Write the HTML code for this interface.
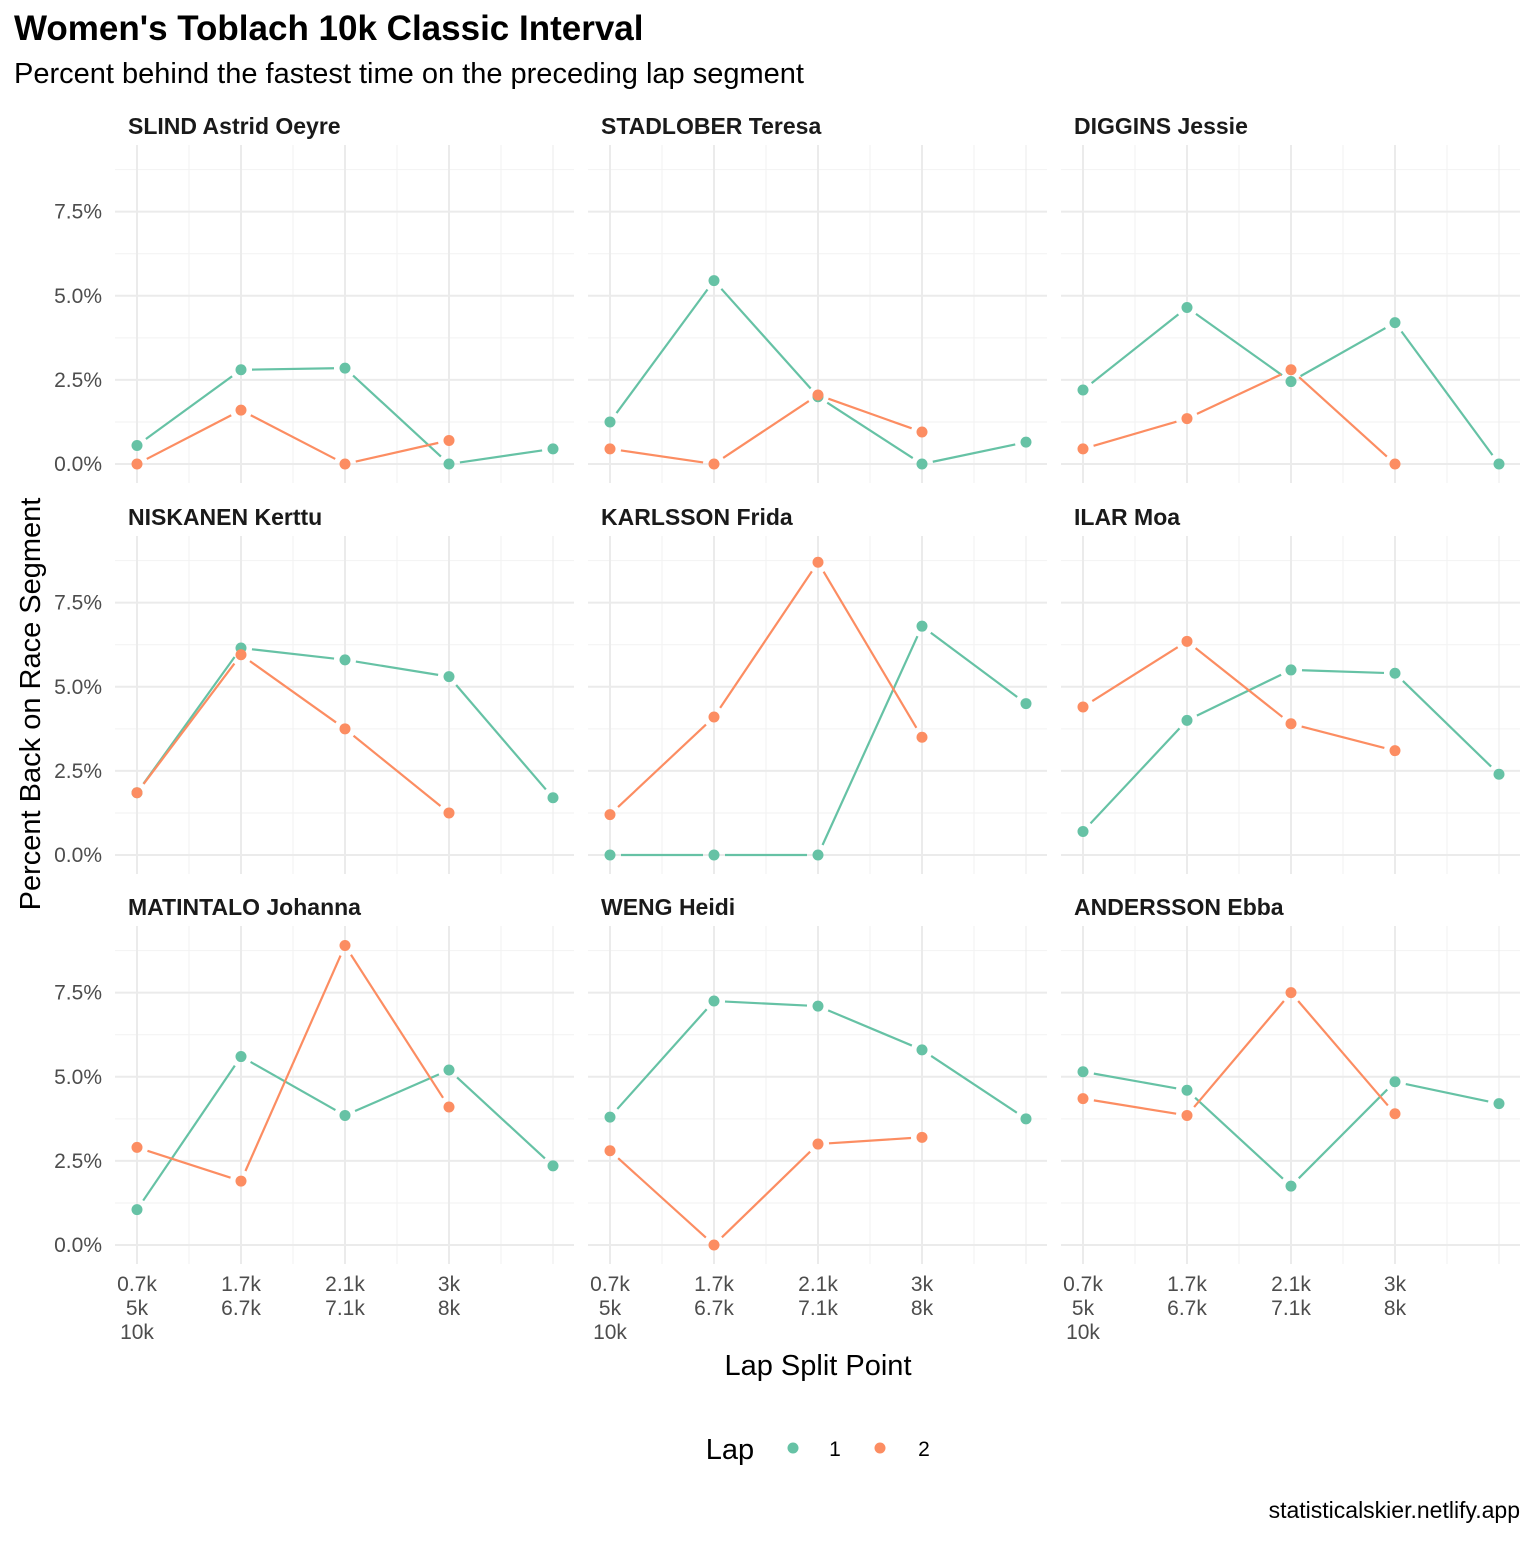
<!DOCTYPE html>
<html><head><meta charset="utf-8"><style>
body{margin:0;background:#fff}
svg text{font-family:"Liberation Sans",Arial,sans-serif}
</style></head><body>
<svg id="s" width="1536" height="1536" xmlns="http://www.w3.org/2000/svg">
<rect width="1536" height="1536" fill="#fff"/>
<text x="14" y="40" font-size="35" font-weight="bold" fill="#000">Women's Toblach 10k Classic Interval</text>
<text x="14" y="83" font-size="29" fill="#000">Percent behind the fastest time on the preceding lap segment</text>
<text x="818" y="1375" font-size="29" text-anchor="middle" fill="#000">Lap Split Point</text>
<text transform="translate(40,704) rotate(-90)" font-size="29" text-anchor="middle" fill="#000">Percent Back on Race Segment</text>
<text x="730" y="1459" font-size="29" text-anchor="middle" fill="#000">Lap</text>
<circle cx="793" cy="1448" r="5.5" fill="#66c2a5"/>
<text x="835" y="1456" font-size="21" text-anchor="middle" fill="#000">1</text>
<circle cx="880" cy="1448" r="5.5" fill="#fc8d62"/>
<text x="924" y="1456" font-size="21" text-anchor="middle" fill="#000">2</text>
<text x="1520" y="1518" font-size="23" text-anchor="end" fill="#000">statisticalskier.netlify.app</text>
<g id="g"></g>
</svg>
<script>
var names=["SLIND Astrid Oeyre","STADLOBER Teresa","DIGGINS Jessie","NISKANEN Kerttu","KARLSSON Frida","ILAR Moa","MATINTALO Johanna","WENG Heidi","ANDERSSON Ebba"];
var d=[
[[0.55,2.8,2.85,0,0.45],[0,1.6,0,0.7]],
[[1.25,5.45,2.0,0,0.65],[0.45,0,2.05,0.95]],
[[2.2,4.65,2.45,4.2,0],[0.45,1.35,2.8,0]],
[[1.85,6.15,5.8,5.3,1.7],[1.85,5.95,3.75,1.25]],
[[0,0,0,6.8,4.5],[1.2,4.1,8.7,3.5]],
[[0.7,4.0,5.5,5.4,2.4],[4.4,6.35,3.9,3.1]],
[[1.05,5.6,3.85,5.2,2.35],[2.9,1.9,8.9,4.1]],
[[3.8,7.25,7.1,5.8,3.75],[2.8,0,3.0,3.2]],
[[5.15,4.6,1.75,4.85,4.2],[4.35,3.85,7.5,3.9]]];
var colX=[137,610,1083],rowY=[464,855,1245],sc=33.65,cols=["#66c2a5","#fc8d62"];
var h="";
for(var p=0;p<9;p++){
 var c=p%3,r=Math.floor(p/3),x0=colX[c],y0=rowY[r];
 var L=x0-22,R=x0+437,T=y0-319,B=y0+19;
 for(var k=0;k<4;k++){var xx=x0+52+104*k;h+='<line x1="'+xx+'" x2="'+xx+'" y1="'+T+'" y2="'+B+'" stroke="#f2f2f2" stroke-width="1"/>';}
 for(var v=1.25;v<9;v+=2.5){var yy=y0-v*sc;h+='<line x1="'+L+'" x2="'+R+'" y1="'+yy+'" y2="'+yy+'" stroke="#f2f2f2" stroke-width="1"/>';}
 for(var k=0;k<5;k++){var xx=x0+104*k;h+='<line x1="'+xx+'" x2="'+xx+'" y1="'+T+'" y2="'+B+'" stroke="#ebebeb" stroke-width="'+(k<4?2:1)+'"/>';}
 for(var v=0;v<9;v+=2.5){var yy=y0-v*sc;h+='<line x1="'+L+'" x2="'+R+'" y1="'+yy+'" y2="'+yy+'" stroke="#ebebeb" stroke-width="2"/>';}
 h+='<text x="'+(x0-9)+'" y="'+(T-11)+'" font-size="23" font-weight="bold" fill="#1a1a1a">'+names[p]+'</text>';
 if(c==0){for(var v=0;v<9;v+=2.5){h+='<text x="102" y="'+(y0-v*sc+7)+'" font-size="21" text-anchor="end" fill="#4d4d4d">'+v.toFixed(1)+'%</text>';}}
 if(r==2){var labs=[["0.7k","5k","10k"],["1.7k","6.7k"],["2.1k","7.1k"],["3k","8k"]];
  for(var k=0;k<4;k++)for(var j=0;j<labs[k].length;j++)h+='<text x="'+(x0+104*k)+'" y="'+(1291+j*24)+'" font-size="21" text-anchor="middle" fill="#4d4d4d">'+labs[k][j]+'</text>';}
 for(var s=0;s<2;s++){var a=d[p][s],pts=a.map(function(v,i){return [x0+104*i,y0-v*sc]});
  for(var i=0;i<pts.length-1;i++){var dx=pts[i+1][0]-pts[i][0],dy=pts[i+1][1]-pts[i][1],l=Math.hypot(dx,dy),g=11;
   h+='<line x1="'+(pts[i][0]+dx/l*g)+'" y1="'+(pts[i][1]+dy/l*g)+'" x2="'+(pts[i+1][0]-dx/l*g)+'" y2="'+(pts[i+1][1]-dy/l*g)+'" stroke="'+cols[s]+'" stroke-width="2.2"/>';}
  pts.forEach(function(q){h+='<circle cx="'+q[0]+'" cy="'+q[1]+'" r="5.5" fill="'+cols[s]+'"/>';});}
}
document.getElementById("g").innerHTML=h;
</script>
</body></html>
